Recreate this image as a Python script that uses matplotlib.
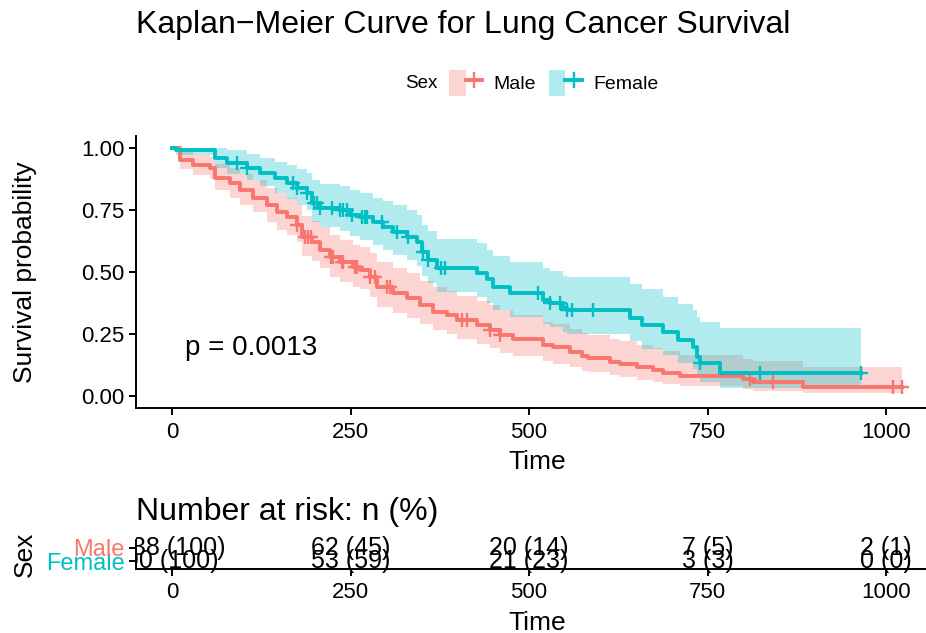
import numpy as np
import matplotlib.pyplot as plt
from matplotlib.patches import Patch
from matplotlib.lines import Line2D
from matplotlib.legend_handler import HandlerTuple
from matplotlib.transforms import Bbox, TransformedBbox

plt.rcParams['font.family'] = ['Liberation Sans', 'DejaVu Sans']

# step curves: time, survival, lower / upper 95% band
male_t = [0, 11, 30, 53, 60, 81, 95, 113, 133, 147, 161, 175, 182, 196, 207, 221, 235, 253, 263,
          277, 287, 310, 329, 347, 366, 385, 399, 427, 445, 459, 478, 520, 534, 557, 574, 583,
          613, 627, 651, 674, 688, 711, 800, 814, 884]
male_s = [1.0, 0.95, 0.93, 0.92, 0.88, 0.86, 0.83, 0.80, 0.77, 0.74, 0.72, 0.69, 0.64, 0.62, 0.59,
          0.56, 0.54, 0.52, 0.51, 0.48, 0.44, 0.415, 0.395, 0.367, 0.34, 0.327, 0.306, 0.286, 0.266,
          0.246, 0.23, 0.206, 0.196, 0.177, 0.16, 0.152, 0.137, 0.129, 0.117, 0.105, 0.093, 0.081,
          0.068, 0.056, 0.036]
male_lo = [1.0, 0.915, 0.89, 0.875, 0.83, 0.80, 0.77, 0.74, 0.70, 0.67, 0.65, 0.62, 0.565, 0.545,
           0.515, 0.48, 0.46, 0.44, 0.43, 0.40, 0.36, 0.335, 0.315, 0.29, 0.265, 0.25, 0.23, 0.21,
           0.195, 0.175, 0.16, 0.14, 0.13, 0.115, 0.10, 0.095, 0.083, 0.076, 0.066, 0.057, 0.048,
           0.04, 0.03, 0.022, 0.011]
male_hi = [1.0, 0.99, 0.97, 0.965, 0.935, 0.92, 0.895, 0.87, 0.84, 0.82, 0.80, 0.77, 0.725, 0.705,
           0.68, 0.65, 0.63, 0.61, 0.60, 0.575, 0.54, 0.515, 0.495, 0.465, 0.44, 0.425, 0.405, 0.385,
           0.365, 0.345, 0.325, 0.30, 0.29, 0.27, 0.255, 0.245, 0.23, 0.22, 0.205, 0.193, 0.18,
           0.165, 0.15, 0.14, 0.118]
male_end = 1022
male_cens = [175, 186, 190, 194, 222, 226, 238, 240, 256, 259, 277, 284, 301, 305, 406, 413,
             445, 459, 810, 842, 1010, 1022]

fem_t = [0, 5, 60, 77, 105, 123, 144, 161, 175, 189, 196, 207, 235, 249, 263, 282, 296, 310, 329,
         343, 350, 359, 371, 427, 441, 450, 473, 520, 529, 548, 553, 641, 658, 688, 709, 730, 735,
         739, 767]
fem_s = [1.0, 0.99, 0.96, 0.94, 0.92, 0.90, 0.88, 0.86, 0.84, 0.82, 0.78, 0.76, 0.75, 0.73, 0.72,
         0.70, 0.68, 0.66, 0.64, 0.62, 0.58, 0.55, 0.515, 0.495, 0.47, 0.44, 0.415, 0.387, 0.375,
         0.355, 0.347, 0.315, 0.286, 0.258, 0.226, 0.198, 0.157, 0.133, 0.093]
fem_lo = [1.0, 0.97, 0.92, 0.895, 0.87, 0.845, 0.82, 0.795, 0.77, 0.75, 0.70, 0.68, 0.665, 0.645,
          0.63, 0.61, 0.59, 0.57, 0.55, 0.525, 0.485, 0.455, 0.42, 0.40, 0.375, 0.345, 0.32, 0.29,
          0.28, 0.26, 0.25, 0.22, 0.19, 0.165, 0.135, 0.11, 0.075, 0.055, 0.032]
fem_hi = [1.0, 1.0, 1.0, 0.99, 0.975, 0.96, 0.945, 0.93, 0.915, 0.90, 0.87, 0.855, 0.845, 0.83,
          0.82, 0.80, 0.785, 0.77, 0.75, 0.73, 0.69, 0.665, 0.635, 0.615, 0.59, 0.565, 0.54, 0.515,
          0.505, 0.485, 0.48, 0.45, 0.43, 0.40, 0.37, 0.345, 0.32, 0.30, 0.274]
fem_end = 965
fem_cens = [91, 105, 170, 175, 189, 199, 203, 207, 224, 235, 240, 245, 252, 266, 270, 273, 294,
            315, 331, 352, 359, 376, 382, 513, 529, 543, 553, 560, 590, 740, 823, 965]

# number at risk table
risk_times = [0, 250, 500, 750, 1000]
male_n = [138, 62, 20, 7, 2]
male_pct = [100, 45, 14, 5, 1]
fem_n = [90, 53, 21, 3, 0]
fem_pct = [100, 59, 23, 3, 0]

red = '#F8766D'
teal = '#00BFC4'
W, H = 926, 633

fig = plt.figure(figsize=(W / 100, H / 100), dpi=100)
x0, x1 = 135.6, 938.2
ax = fig.add_axes([x0 / W, 1 - 408.4 / H, (x1 - x0) / W, (408.4 - 135.6) / H])
axr = fig.add_axes([x0 / W, 1 - 568.8 / H, (x1 - x0) / W, (568.8 - 540.2) / H])


def draw_group(t, s, lo, hi, t_end, cens, col):
    tt = np.append(t, t_end)
    ss = np.append(s, s[-1])
    ax.fill_between(tt, np.append(lo, lo[-1]), np.append(hi, hi[-1]), step='post',
                    color=col, alpha=0.3, lw=0)
    ax.step(tt, ss, where='post', color=col, lw=2.8)
    idx = np.searchsorted(t, cens, side='right') - 1
    ax.plot(cens, np.array(s)[idx], ls='none', marker='+', ms=9.5, mew=1.7, color=col)


draw_group(male_t, male_s, male_lo, male_hi, male_end, male_cens, red)
draw_group(fem_t, fem_s, fem_lo, fem_hi, fem_end, fem_cens, teal)

ax.set_xlim(-51.1, 1073.1)
ax.set_ylim(-0.05, 1.05)
ax.set_xticks(risk_times)
ax.set_yticks([0, 0.25, 0.5, 0.75, 1.0])
ax.set_yticklabels(['0.00', '0.25', '0.50', '0.75', '1.00'])
ax.set_xlabel('Time', fontsize=19, labelpad=5.5)
ax.set_ylabel('Survival probability', fontsize=19)
ax.yaxis.set_label_coords(-(x0 - 37) / (x1 - x0), 0.5)
ax.text(18, 0.195, 'p = 0.0013', fontsize=20, ha='left', va='center')

for a in (ax, axr):
    for sp in ('top', 'right'):
        a.spines[sp].set_visible(False)
    for sp in ('left', 'bottom'):
        a.spines[sp].set_linewidth(1.4)
    a.tick_params(width=1.4, length=5, labelsize=16, pad=3)
    a.tick_params(axis='x', pad=4.5)

# risk table, numbers clipped only at the panel's left and right edges
axr.set_xlim(-51.1, 1073.1)
axr.set_ylim(0.4, 2.6)
clip = TransformedBbox(Bbox([[x0 / W, 0], [x1 / W, 1]]), fig.transFigure)
for t, n, p in zip(risk_times, male_n, male_pct):
    tx = axr.text(t, 2, f'{n} ({p})', ha='center', va='center', fontsize=18)
    tx.set_clip_box(clip)
    tx.set_clip_on(True)
for t, n, p in zip(risk_times, fem_n, fem_pct):
    tx = axr.text(t, 1, f'{n} ({p})', ha='center', va='center', fontsize=18)
    tx.set_clip_box(clip)
    tx.set_clip_on(True)
axr.set_xticks(risk_times)
axr.set_yticks([1, 2])
axr.set_yticklabels(['Female', 'Male'], fontsize=17)
for lab, col in zip(axr.get_yticklabels(), [teal, red]):
    lab.set_color(col)
axr.set_xlabel('Time', fontsize=19, labelpad=5.5)
axr.set_ylabel('Sex', fontsize=19)
axr.yaxis.set_label_coords(-(x0 - 37) / (x1 - x0), 0.5)

fig.text(x0 / W, 1 - 33 / H, 'Kaplan\u2212Meier Curve for Lung Cancer Survival',
         fontsize=23, ha='left', va='baseline')
fig.text(x0 / W, 1 - 520 / H, 'Number at risk: n (%)', fontsize=23, ha='left', va='baseline')

# legend
fig.text(405 / W, 1 - 83 / H, 'Sex', fontsize=13.5, ha='left', va='center')
handles = [(Patch(color=red, alpha=0.3, lw=0), Line2D([], [], color=red, lw=2.8, marker='+', ms=11, mew=1.7)),
           (Patch(color=teal, alpha=0.3, lw=0), Line2D([], [], color=teal, lw=2.8, marker='+', ms=11, mew=1.7))]
fig.legend(handles, ['Male', 'Female'], ncol=2, frameon=False, fontsize=14,
           loc='center left', bbox_to_anchor=(449 / W, 1 - 83 / H), borderpad=0, borderaxespad=0,
           handlelength=1.7, handleheight=1.7, handletextpad=0.6, columnspacing=0.65,
           handler_map={tuple: HandlerTuple(ndivide=None, pad=0)})

fig.savefig('out.png', dpi=100)
